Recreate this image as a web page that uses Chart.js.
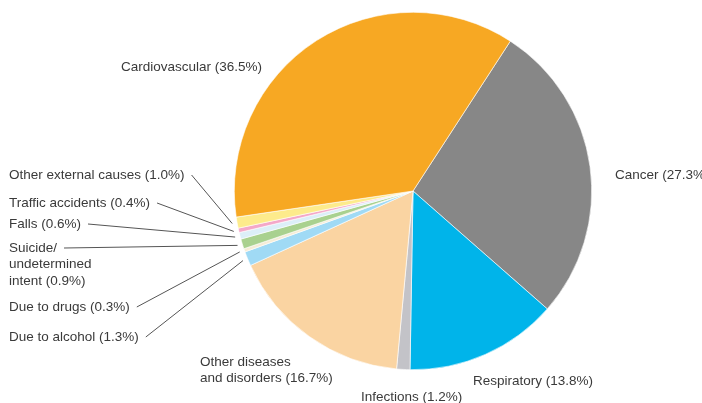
<!DOCTYPE html>
<html>
<head>
<meta charset="utf-8">
<script src="https://cdn.jsdelivr.net/npm/chart.js@4"></script>
<style>
  body{margin:0;background:#fff;}
  #wrap{position:relative;width:702px;height:403px;}
</style>
</head>
<body>
<div id="wrap"><canvas id="myChart"></canvas></div>
<script>
// data, clockwise from the Cardiovascular/Cancer boundary
const causes = ["Cancer","Respiratory","Infections","Other diseases and disorders","Due to alcohol",
  "Due to drugs","Suicide/undetermined intent","Falls","Traffic accidents","Other external causes","Cardiovascular"];
const shares = [27.3,13.8,1.2,16.7,1.3,0.3,0.9,0.6,0.4,1.0,36.5];
const labelLines = [
  ["Cancer (27.3%)"],
  ["Respiratory (13.8%)"],
  ["Infections (1.2%)"],
  ["Other diseases","and disorders (16.7%)"],
  ["Due to alcohol (1.3%)"],
  ["Due to drugs (0.3%)"],
  ["Suicide/","undetermined","intent (0.9%)"],
  ["Falls (0.6%)"],
  ["Traffic accidents (0.4%)"],
  ["Other external causes (1.0%)"],
  ["Cardiovascular (36.5%)"]
];
const colors = ["#878787","#00b4ea","#c3c3c8","#fad4a2","#a0daf5","#f6ecd6","#a9d18f","#dceff8","#f4a8c9","#fdeb8c","#f7a823"];

// label placement (left x, centre y of first line) and whether a leader line is drawn
const labelPos = [[615,175],[473,381],[361,397],[200,362],[9,337],[9,307],[9,248],[9,224],[9,203],[9,175],[121,67]];
const hasLeader = [false,false,false,false,true,true,true,true,true,true,false];

const labelPlugin = {
  id:'labels',
  afterDraw(chart){
    const ctx = chart.ctx;
    const arcs = chart.getDatasetMeta(0).data;
    ctx.save();
    ctx.font = '13.5px "Liberation Sans", Arial, sans-serif';
    ctx.textBaseline = 'middle';
    ctx.textAlign = 'left';
    labelLines.forEach((lines,i)=>{
      const [x,y] = labelPos[i];
      ctx.fillStyle = '#3a3a3a';
      lines.forEach((t,j)=>ctx.fillText(t,x,y+j*16.5));
      if(hasLeader[i]){
        const a = arcs[i];
        const mid = (a.startAngle+a.endAngle)/2;
        const r = a.outerRadius+5;
        const ex = a.x+Math.cos(mid)*r, ey = a.y+Math.sin(mid)*r;
        const sx = x+ctx.measureText(lines[0]).width+7;
        ctx.strokeStyle = '#555';
        ctx.lineWidth = 1;
        ctx.beginPath();
        ctx.moveTo(sx,y);
        ctx.lineTo(ex,ey);
        ctx.stroke();
      }
    });
    ctx.restore();
  }
};

new Chart(document.getElementById('myChart'),{
  type:'pie',
  data:{
    labels:causes,
    datasets:[{
      data:shares,
      backgroundColor:colors,
      borderColor:'#fff',
      borderWidth:0.6
    }]
  },
  options:{
    responsive:true,
    maintainAspectRatio:false,
    animation:false,
    rotation:33,
    layout:{padding:{left:234,right:110,top:12,bottom:33}},
    plugins:{legend:{display:false},tooltip:{enabled:false}}
  },
  plugins:[labelPlugin]
});
</script>
</body>
</html>
